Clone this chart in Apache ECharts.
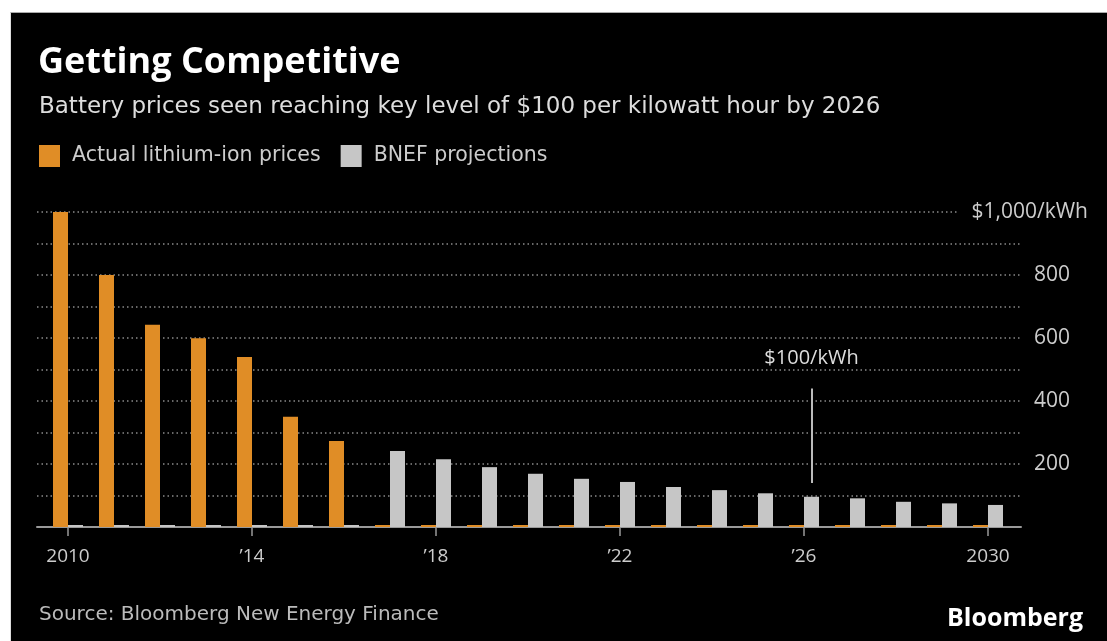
<!DOCTYPE html>
<html>
<head>
<meta charset="utf-8">
<script src="https://cdn.jsdelivr.net/npm/echarts@6/dist/echarts.min.js"></script>
<style>
  html, body { margin: 0; padding: 0; background: #fff; }
  .panel { position: absolute; left: 10px; top: 12px; right: 0; bottom: 0; background: #000; border-top: 1px solid #aaa; border-left: 1px solid #ddd; }
  #chart { position: absolute; left: 0; top: 0; width: 1107px; height: 641px; }
</style>
</head>
<body>
<div class="panel"></div>
<div id="chart"></div>
<script>
// data ($/kWh)
const years = ['2010', '2011', '2012', '2013', '2014', '2015', '2016', '2017', '2018', '2019', '2020',
  '2021', '2022', '2023', '2024', '2025', '2026', '2027', '2028', '2029', '2030']
const actualPrices = [1000, 800, 642, 599, 540, 350, 273, 0, 0, 0, 0, 0, 0, 0, 0, 0, 0, 0, 0, 0, 0]
const projections = [0, 0, 0, 0, 0, 0, 0, 241, 215, 190, 169, 153, 143, 127, 117, 107, 96, 91, 80, 75, 70]
const yTicks = [200, 400, 600, 800]
const targetYear = '2026'
const targetLine = [140, 440]

const font = '"Open Sans", "Noto Sans", sans-serif'
const bodyFont = '"DejaVu Sans", sans-serif'
const orange = '#e08d26'
const grey = '#c6c6c6'

const chart = echarts.init(document.getElementById('chart'))

const option = {
  animation: false,
  textStyle: { fontFamily: font },
  title: [
    {
      text: 'Getting Competitive',
      left: 33,
      top: 40,
      textStyle: { color: '#fff', fontSize: 36, fontWeight: 'bold', fontFamily: font }
    },
    {
      text: 'Battery prices seen reaching key level of $100 per kilowatt hour by 2026',
      left: 34,
      top: 91,
      textStyle: { color: '#ddd', fontSize: 23, fontWeight: 'normal', fontFamily: bodyFont }
    },
    {
      text: 'Source: Bloomberg New Energy Finance',
      left: 34,
      top: 600,
      textStyle: { color: '#bbb', fontSize: 20, fontWeight: 'normal', fontFamily: bodyFont }
    },
    {
      text: 'Bloomberg',
      right: 19,
      top: 601,
      textStyle: { color: '#fff', fontSize: 25, fontWeight: 'bold', fontFamily: font, letterSpacing: -1 }
    }
  ],
  legend: {
    left: 34,
    top: 140,
    icon: 'rect',
    itemWidth: 21,
    itemHeight: 22,
    itemGap: 20,
    textStyle: { color: '#ccc', fontSize: 20.5, fontFamily: bodyFont, padding: [0, 0, 0, 7] },
    data: ['Actual lithium-ion prices', 'BNEF projections']
  },
  grid: [
    // gridlines + baseline
    { left: 37, right: 86, top: 212, bottom: 114 },
    // bars
    { left: 45, width: 966, top: 212, bottom: 114 }
  ],
  xAxis: [
    {
      type: 'value',
      gridIndex: 0,
      min: 0,
      max: 1,
      axisLine: { show: true, onZero: false, lineStyle: { color: '#999', width: 2 } },
      axisTick: { show: false },
      axisLabel: { show: false },
      splitLine: { show: false }
    },
    {
      type: 'category',
      gridIndex: 1,
      data: years,
      axisLine: { show: false },
      axisTick: {
        show: true,
        alignWithLabel: true,
        interval: 3,
        length: 9,
        lineStyle: { color: '#999', width: 1.5 }
      },
      axisLabel: {
        interval: 3,
        margin: 20,
        color: '#ccc',
        fontSize: 19,
        fontFamily: font,
        formatter: function (v) {
          return v === years[0] || v === years[years.length - 1] ? v : '\u2019' + v.slice(2)
        }
      }
    }
  ],
  yAxis: [
    {
      type: 'value',
      gridIndex: 0,
      position: 'right',
      min: 0,
      max: 1000,
      interval: 100,
      axisLine: { show: false },
      axisTick: { show: false },
      splitLine: { show: true, lineStyle: { color: '#8a8a8a', width: 1.5, type: [1.5, 3] } },
      axisLabel: {
        margin: 13,
        color: '#ccc',
        fontSize: 21,
        fontFamily: font,
        formatter: function (v) {
          return yTicks.indexOf(v) >= 0 ? String(v) : ''
        }
      }
    },
    {
      // top label, which sits over the top gridline
      type: 'value',
      gridIndex: 0,
      position: 'right',
      min: 0,
      max: 1000,
      interval: 1000,
      axisLine: { show: false },
      axisTick: { show: false },
      splitLine: { show: false },
      axisLabel: {
        margin: 67,
        align: 'right',
        color: '#ccc',
        fontSize: 21,
        fontFamily: font,
        backgroundColor: '#000',
        padding: [2, 0, 2, 13],
        formatter: function (v) {
          return v === 1000 ? '$1,000/kWh' : ''
        }
      }
    },
    {
      type: 'value',
      gridIndex: 1,
      min: 0,
      max: 1000,
      show: false,
      splitLine: { show: false }
    }
  ],
  series: [
    {
      name: 'Actual lithium-ion prices',
      type: 'bar',
      xAxisIndex: 1,
      yAxisIndex: 2,
      barWidth: 15,
      barGap: 0,
      barMinHeight: 2,
      itemStyle: { color: orange },
      data: actualPrices
    },
    {
      name: 'BNEF projections',
      type: 'bar',
      xAxisIndex: 1,
      yAxisIndex: 2,
      barWidth: 15,
      barGap: 0,
      barMinHeight: 2,
      itemStyle: { color: grey },
      data: projections,
      markLine: {
        silent: true,
        symbol: 'none',
        lineStyle: { color: '#bbb', width: 2, type: 'solid' },
        label: {
          show: true,
          position: 'end',
          distance: 20,
          color: '#ddd',
          fontSize: 20,
          fontFamily: font,
          formatter: '$100/kWh'
        },
        data: [[
          { coord: [targetYear, targetLine[0]] },
          { coord: [targetYear, targetLine[1]] }
        ]]
      }
    }
  ]
}

chart.setOption(option)
</script>
</body>
</html>
